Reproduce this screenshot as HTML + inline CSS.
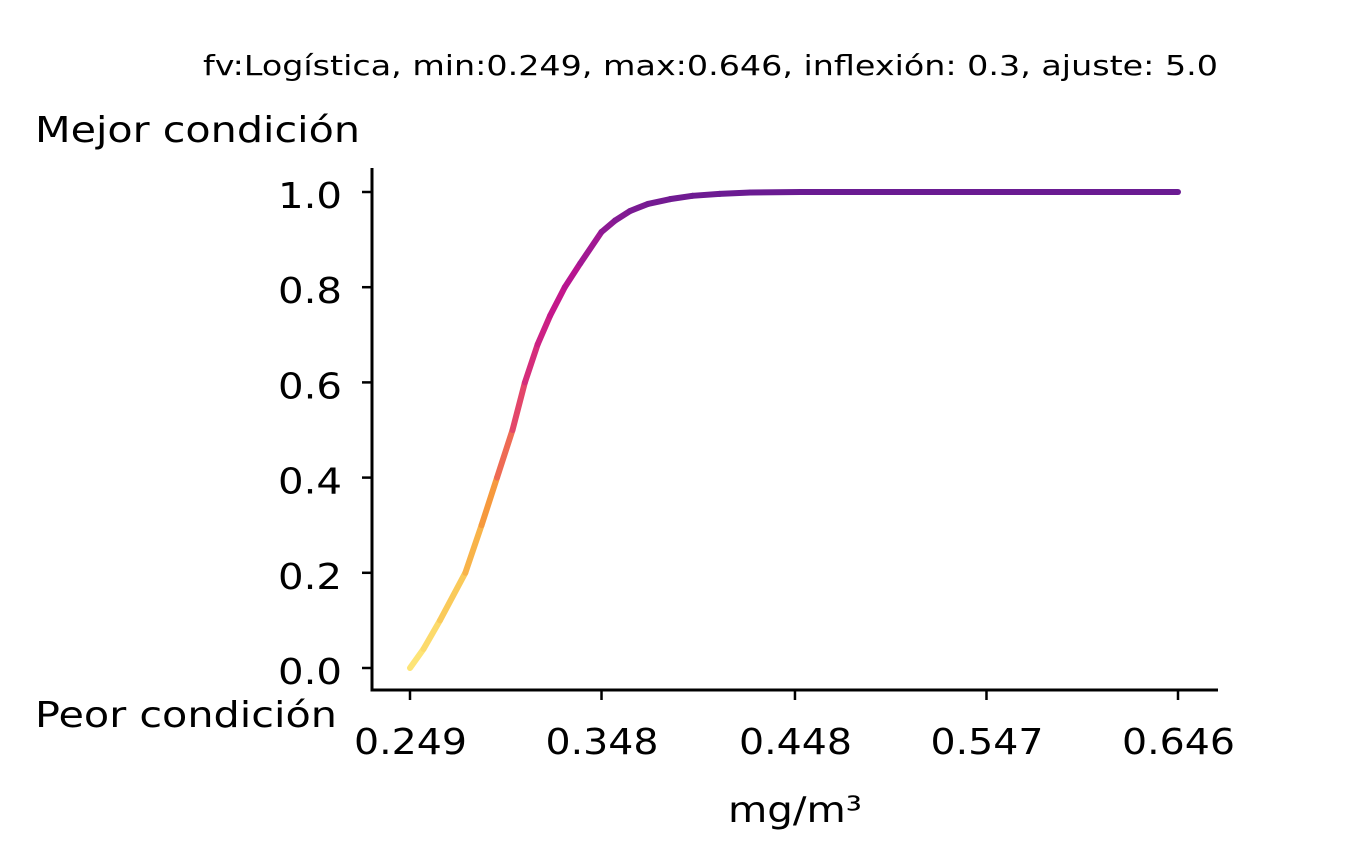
<!DOCTYPE html>
<html><head><meta charset="utf-8">
<style>
html,body{margin:0;padding:0;background:#fff;}
svg text{font-family:"DejaVu Sans","Liberation Sans",sans-serif;fill:#000;}
</style></head>
<body>
<svg width="1353" height="843" viewBox="0 0 1353 843" xmlns="http://www.w3.org/2000/svg">
<text x="203" y="75" style="font-size:28px" textLength="1015" lengthAdjust="spacingAndGlyphs">fv:Logística, min:0.249, max:0.646, inflexión: 0.3, ajuste: 5.0</text>
<text x="35" y="142" style="font-size:36px" textLength="325" lengthAdjust="spacingAndGlyphs">Mejor condición</text>
<text x="35" y="727" style="font-size:36px" textLength="302" lengthAdjust="spacingAndGlyphs">Peor condición</text>
<text x="728" y="822" style="font-size:36px" textLength="134" lengthAdjust="spacingAndGlyphs">mg/m³</text>
<g id="axes"></g>
<g id="curve"></g>
</svg>
<script>
const xTicks = [0.249, 0.348, 0.448, 0.547, 0.646];
const yTicks = [0.0, 0.2, 0.4, 0.6, 0.8, 1.0];
const xValues = [0.249,0.256,0.2645,0.2776,0.286,0.294,0.302,0.3084,0.315,0.3214,0.329,0.337,0.348,0.355,0.3627,0.372,0.3834,0.395,0.409,0.425,0.451,0.5,0.55,0.6,0.646];
const yValues = [0.0,0.04,0.10,0.20,0.30,0.40,0.50,0.60,0.68,0.74,0.80,0.85,0.916,0.94,0.96,0.975,0.985,0.992,0.996,0.999,1.0,1.0,1.0,1.0,1.0];

const NS="http://www.w3.org/2000/svg";
const X0=410,X1=1178,Y0=668,Y1=192;
const xs=v=>X0+(v-0.249)/(0.646-0.249)*(X1-X0);
const ys=v=>Y0+(v-0)*(Y1-Y0);
function mk(tag,attrs,parent){const e=document.createElementNS(NS,tag);for(const k in attrs)e.setAttribute(k,attrs[k]);parent.appendChild(e);return e;}
const axes=document.getElementById('axes');
let l=mk('line',{x1:372,y1:168,x2:372,y2:691.5,stroke:'#000','stroke-width':3},axes);


l=mk('line',{x1:370.5,y1:690,x2:1218,y2:690,stroke:'#000','stroke-width':3},axes);


xTicks.forEach(t=>{
  const x=xs(t);
  const tk=mk('line',{x1:x,y1:690,x2:x,y2:700,stroke:'#000','stroke-width':2.5},axes);
  
  
  const tx=mk('text',{x:x-56,y:754,style:'font-size:36px',textLength:113,lengthAdjust:'spacingAndGlyphs'},axes);
  tx.textContent=t.toFixed(3);
  
  
});
yTicks.forEach(t=>{
  const y=ys(t);
  const tk=mk('line',{x1:362,y1:y,x2:372,y2:y,stroke:'#000','stroke-width':2.5},axes);
  
  
  const tx=mk('text',{x:278,y:y+16,style:'font-size:36px',textLength:64,lengthAdjust:'spacingAndGlyphs'},axes);
  tx.textContent=t.toFixed(1);
  
  
});
const stops=[[0,[253,232,122]],[0.2,[249,192,79]],[0.35,[246,153,61]],[0.5,[234,84,96]],[0.65,[212,42,125]],[0.8,[192,19,143]],[0.9,[155,26,148]],[1,[106,27,146]]];
function col(v){for(let i=1;i<stops.length;i++){if(v<=stops[i][0]){const a=stops[i-1],b=stops[i];const f=(v-a[0])/(b[0]-a[0]);return 'rgb('+a[1].map((c,j)=>Math.round(c+(b[1][j]-c)*f)).join(',')+')';}}return 'rgb(106,27,146)';}
const curve=document.getElementById('curve');
for(let i=0;i<xValues.length-1;i++){
  const s=mk('line',{x1:xs(xValues[i]),y1:ys(yValues[i]),x2:xs(xValues[i+1]),y2:ys(yValues[i+1]),stroke:col((yValues[i]+yValues[i+1])/2),'stroke-width':6,'stroke-linecap':'round'},curve);
  
  
}
</script>
</body></html>
